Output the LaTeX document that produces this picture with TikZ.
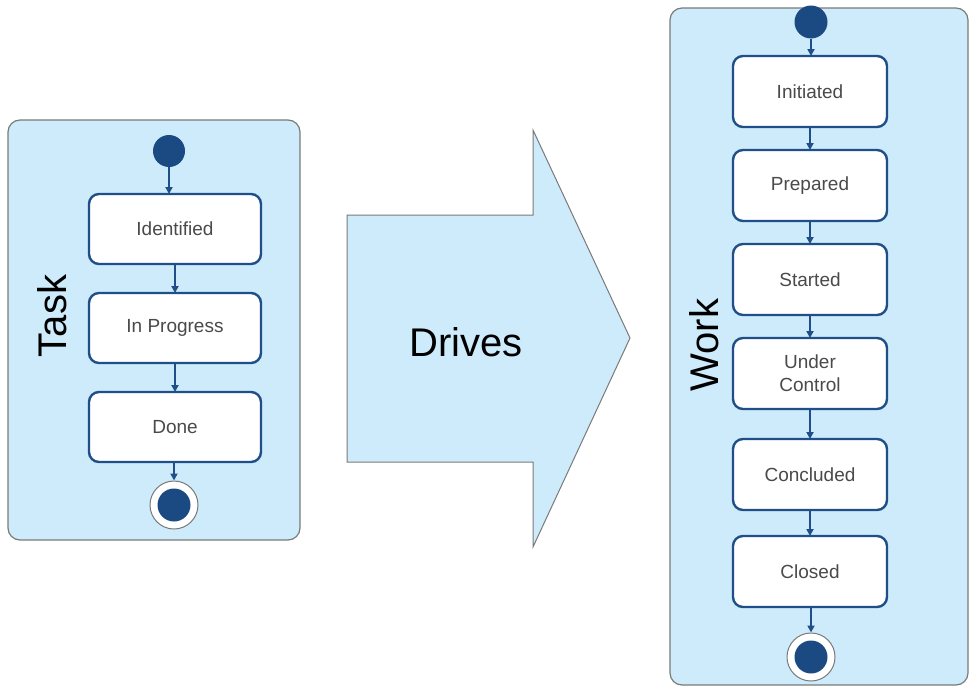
\documentclass[tikz,border=0pt]{standalone}
\usepackage{fontspec}
\setmainfont{Liberation Sans}
\usetikzlibrary{arrows.meta,positioning}
\definecolor{panelBlue}{HTML}{CDEBFA}
\definecolor{panelGray}{HTML}{7A7A7A}
\definecolor{stateBlue}{HTML}{1F4E89}
\definecolor{dotBlue}{HTML}{1B4A82}
\definecolor{stateText}{HTML}{4A4A4A}

\begin{document}
\begin{tikzpicture}[x=1pt, y=-1pt,
    every node/.style={font=\fontsize{19}{23}\selectfont},
    panel/.style={draw=panelGray, fill=panelBlue, rounded corners=12pt, line width=1.2pt},
    state/.style={draw=stateBlue, fill=white, rounded corners=10pt, line width=2.4pt,
                  minimum width=172pt, minimum height=70pt, text=stateText,
                  align=center, inner sep=0pt, outer sep=0pt},
    wstate/.style={state, minimum width=154pt, minimum height=71pt},
    start/.style={circle, fill=dotBlue, minimum size=32pt, inner sep=0pt},
    stop/.style={circle, draw=panelGray, fill=white, line width=1pt,
                 minimum size=48pt, inner sep=0pt},
    tr/.style={-{Triangle[length=7pt,width=7pt]}, stateBlue, line width=2pt},
    title/.style={rotate=90, font=\fontsize{40}{44}\selectfont},
  ]
  \useasboundingbox (0,0) rectangle (969,688);

  % Task panel
  \node[panel, minimum width=292pt, minimum height=420pt] (taskpanel) at (154,330) {};
  \node[title] (tasktitle) at (52,316) {Task};
  \node[start] (t0) at (169,151) {};
  \node[state] (t1) at (175,229) {Identified};
  \node[state, below=29pt of t1] (t2) {In Progress};
  \node[state, below=29pt of t2] (t3) {Done};
  \node[stop] (tend) at (174,505) {};
  \node[start, minimum size=33pt] (tenddot) at (tend) {};

  \draw[tr] (t0) -- (t0 |- t1.north);
  \draw[tr] (t1) -- (t2);
  \draw[tr] (t2) -- (t3);
  \draw[tr] (t3.south -| tend) -- (tend.north);

  % Big arrow
  \draw[draw=panelGray, fill=panelBlue, line width=1pt]
    (347,215) -- (533,215) -- (533,130) -- (630,338) -- (533,547)
    -- (533,462) -- (347,462) -- cycle;
  \node[font=\fontsize{40}{44}\selectfont] (drives) at (466,342) {Drives};

  % Work panel
  \node[panel, minimum width=298pt, minimum height=677pt] (workpanel) at (819,346.5) {};
  \node[title] (worktitle) at (704,345) {Work};
  \node[start, minimum size=33pt] (w0) at (811,22) {};
  \node[wstate] (w1) at (810,91.5) {Initiated};
  \node[wstate, below=23pt of w1] (w2) {Prepared};
  \node[wstate, below=23pt of w2] (w3) {Started};
  \node[wstate, below=23pt of w3] (w4) {Under\\Control};
  \node[wstate, below=30pt of w4] (w5) {Concluded};
  \node[wstate, below=26pt of w5] (w6) {Closed};
  \node[stop] (wend) at (811,657) {};
  \node[start, minimum size=33pt] (wenddot) at (wend) {};

  \draw[tr] (w0) -- (w0 |- w1.north);
  \foreach \a/\b in {w1/w2, w2/w3, w3/w4, w4/w5, w5/w6}
    \draw[tr] (\a) -- (\b);
  \draw[tr] (w6.south -| wend) -- (wend.north);
\end{tikzpicture}
\end{document}
